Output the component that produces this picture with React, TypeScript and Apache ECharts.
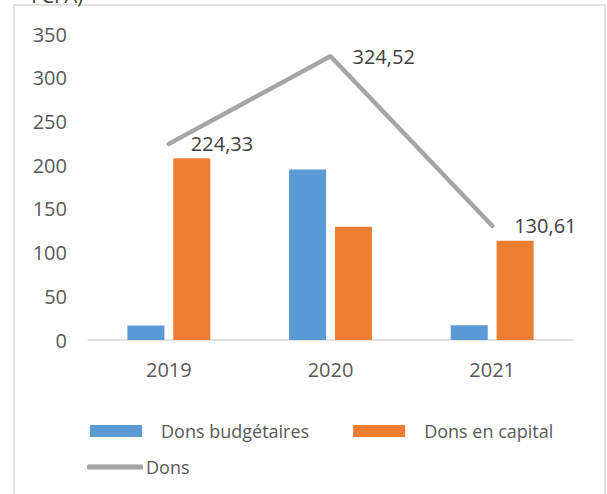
import React, { useEffect, useRef } from "react";
import * as echarts from "echarts";

const categories = ["2019", "2020", "2021"];
const donsBudgetaires = [16.5, 195, 17];
const donsCapital = [207.8, 129.5, 113.6];
const donsTotal = [224.33, 324.52, 130.61];
const yTicks = { min: 0, max: 350, interval: 50 };

const FONT = "'Open Sans', 'Noto Sans', sans-serif";

export default function App() {
  const ref = useRef<HTMLDivElement>(null);
  useEffect(() => {
    if (!ref.current) return;
    const chart = echarts.init(ref.current, null, { renderer: "svg" });
    chart.setOption({
      animation: false,
      backgroundColor: "#ffffff",
      textStyle: { fontFamily: FONT },
      grid: { left: 88, right: 34, top: 34, bottom: 154 },
      graphic: [
        {
          type: "rect",
          shape: { x: 14, y: 5, width: 591, height: 500 },
          style: { fill: "none", stroke: "#d9d9d9", lineWidth: 1.5 },
          silent: true,
        },
        {
          type: "text",
          x: 83,
          y: 5,
          style: {
            text: "FCFA)",
            font: `20px ${FONT}`,
            fill: "#404040",
            textAlign: "right",
            textVerticalAlign: "bottom",
          },
        },
      ],
      xAxis: {
        type: "category",
        data: categories,
        axisLine: { lineStyle: { color: "#d9d9d9", width: 1.5 } },
        axisTick: { show: false },
        axisLabel: { color: "#595959", fontSize: 20, margin: 19, fontFamily: FONT },
      },
      yAxis: {
        type: "value",
        min: yTicks.min,
        max: yTicks.max,
        interval: yTicks.interval,
        axisLine: { show: false },
        axisTick: { show: false },
        splitLine: { show: false },
        axisLabel: { color: "#595959", fontSize: 20, margin: 21, fontFamily: FONT },
      },
      legend: [
        {
          data: ["Dons budgétaires", "Dons en capital"],
          left: 85,
          top: 417,
          itemWidth: 52,
          itemHeight: 12,
          itemGap: 44,
          icon: "rect",
          textStyle: { color: "#595959", fontSize: 18, fontFamily: FONT, padding: [0, 0, 0, 14] },
        },
        {
          data: [{ name: "Dons", icon: "roundRect" }],
          left: 82,
          top: 453,
          itemWidth: 56,
          itemHeight: 5,
          itemGap: 4,
          textStyle: { color: "#595959", fontSize: 18, fontFamily: FONT, padding: [0, 0, 0, -2] },
        },
      ],
      series: [
        {
          name: "Dons budgétaires",
          type: "bar",
          data: donsBudgetaires,
          barWidth: 37,
          barGap: "24%",
          itemStyle: { color: "#5B9BD5" },
        },
        {
          name: "Dons en capital",
          type: "bar",
          data: donsCapital,
          barWidth: 37,
          itemStyle: { color: "#ED7D31" },
        },
        {
          name: "Dons",
          type: "line",
          data: donsTotal,
          symbol: "circle",
          symbolSize: 0,
          showSymbol: true,
          itemStyle: { color: "#A5A5A5" },
          lineStyle: { color: "#A5A5A5", width: 4.5, cap: "round", join: "round" },
          label: {
            show: true,
            position: "right",
            distance: 22,
            color: "#404040",
            fontSize: 20,
            fontFamily: FONT,
            formatter: (p: any) => String(p.value).replace(".", ","),
          },
        },
      ],
    });
    return () => chart.dispose();
  }, []);
  return (
    <div
      ref={ref}
      style={{ position: "absolute", left: 0, top: 0, width: 607, height: 494 }}
    />
  );
}
